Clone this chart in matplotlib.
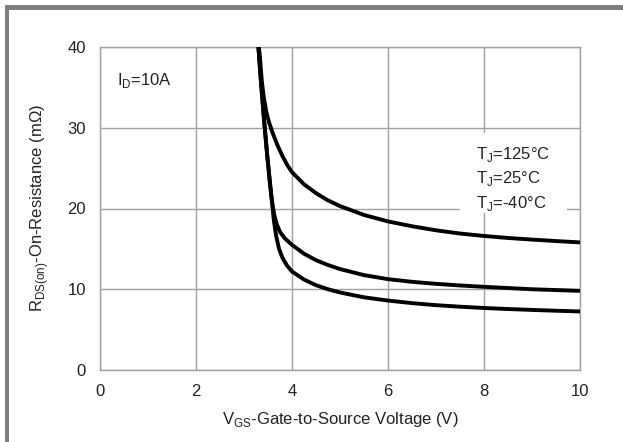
import matplotlib
matplotlib.use("Agg")
import matplotlib.pyplot as plt
from matplotlib.patches import Rectangle

plt.rcParams['font.family'] = ['Liberation Sans', 'DejaVu Sans']

vgs_125 = [3.31, 3.33, 3.37, 3.41, 3.46, 3.52, 3.60, 3.70, 3.80, 3.90, 4.0, 4.25, 4.5,
           4.75, 5.0, 5.5, 6.0, 6.5, 7.0, 7.5, 8.0, 8.5, 9.0, 9.5, 10.0]
r_125 = [40, 38.85, 35.85, 33.85, 32.1, 30.7, 29.3, 27.8, 26.5, 25.4, 24.5, 23.0, 21.9,
         21.0, 20.3, 19.2, 18.4, 17.8, 17.3, 16.9, 16.6, 16.35, 16.15, 15.97, 15.8]

vgs_25 = [3.30, 3.36, 3.42, 3.48, 3.54, 3.58, 3.63, 3.68, 3.75, 3.85, 4.0, 4.25, 4.5,
          4.75, 5.0, 5.5, 6.0, 6.5, 7.0, 7.5, 8.0, 8.5, 9.0, 9.5, 10.0]
r_25 = [40, 35.2, 30.8, 26.8, 23.2, 21.0, 19.2, 18.1, 17.1, 16.3, 15.5, 14.4, 13.6,
        13.0, 12.5, 11.75, 11.25, 10.92, 10.67, 10.47, 10.3, 10.15, 10.0, 9.9, 9.8]

vgs_m40 = [3.30, 3.36, 3.42, 3.48, 3.54, 3.58, 3.62, 3.67, 3.73, 3.80, 3.90, 4.0, 4.25,
           4.5, 4.75, 5.0, 5.5, 6.0, 6.5, 7.0, 7.5, 8.0, 8.5, 9.0, 9.5, 10.0]
r_m40 = [40, 35.2, 30.8, 26.8, 23.2, 21.0, 18.6, 16.6, 15.0, 13.9, 12.9, 12.2, 11.2,
         10.5, 10.0, 9.6, 9.0, 8.6, 8.28, 8.03, 7.84, 7.68, 7.55, 7.44, 7.34, 7.25]

x_ticks = [0, 2, 4, 6, 8, 10]
y_ticks = [0, 10, 20, 30, 40]
legend_labels = ['T$_\\mathregular{J}$=125°C', 'T$_\\mathregular{J}$=25°C', 'T$_\\mathregular{J}$=-40°C']

fig = plt.figure(figsize=(6.23, 4.42), dpi=100)
fig.patch.set_facecolor('white')
# gray frame on left and top
fig.patches.append(Rectangle((5/623, 0), 4/623, 1 - 5/442, transform=fig.transFigure,
                             facecolor='#7f7f7f', edgecolor='none'))
fig.patches.append(Rectangle((5/623, 1 - 10/442), 1, 5/442, transform=fig.transFigure,
                             facecolor='#7f7f7f', edgecolor='none'))

ax = fig.add_axes([100/623, 1 - 370/442, 480/623, 323/442])
ax.set_xlim(0, 10)
ax.set_ylim(0, 40)
ax.set_xticks(x_ticks)
ax.set_yticks(y_ticks)
ax.grid(True, color='#a0a0a0', linewidth=1.0, zorder=0)
ax.set_axisbelow(True)
for s in ax.spines.values():
    s.set_color('#a0a0a0')
    s.set_linewidth(1.0)
ax.tick_params(length=0, labelsize=12, colors='#222222', pad=10)

# white box behind the temperature labels
ax.add_patch(Rectangle((7.5, 19.4), 2.23, 10.0, facecolor='white', edgecolor='none', zorder=1.5))

for v, r in [(vgs_125, r_125), (vgs_25, r_25), (vgs_m40, r_m40)]:
    ax.plot(v, r, color='black', linewidth=2.8, solid_capstyle='butt',
            solid_joinstyle='round', clip_on=True, zorder=3)

ax.set_xlabel('V$_\\mathregular{GS}$-Gate-to-Source Voltage (V)', fontsize=12, color='#222222', labelpad=8)
ax.set_ylabel('R$_\\mathregular{DS(on)}$-On-Resistance (mΩ)', fontsize=12, color='#222222', labelpad=12)

ax.text(0.35, 35.8, 'I$_\\mathregular{D}$=10A', fontsize=12, color='#222222', va='center', zorder=4)

for lbl, yb in zip(legend_labels, [26.1, 23.1, 20.1]):
    ax.text(7.84, yb, lbl, fontsize=12, color='#222222', va='baseline', zorder=4)

fig.savefig('out.png', dpi=100)
